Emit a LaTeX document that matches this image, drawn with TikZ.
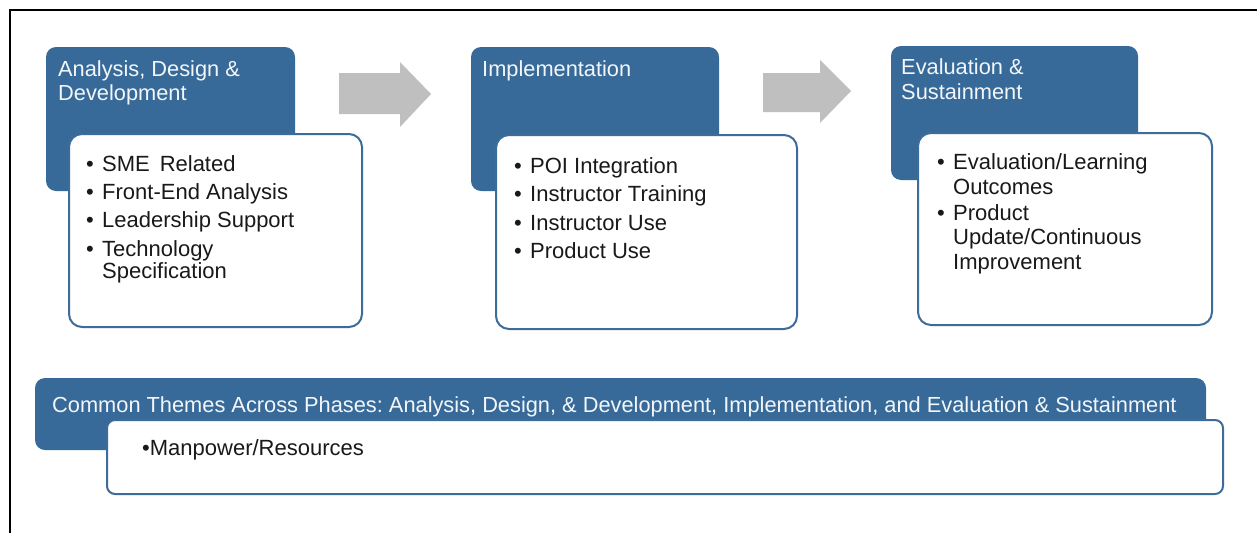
\documentclass[tikz,border=0pt]{standalone}
\usepackage{fontspec}
\setmainfont{Liberation Sans}
\frenchspacing
\definecolor{phaseblue}{RGB}{55,106,153}
\definecolor{edgeblue}{RGB}{62,108,154}
\definecolor{arrowgray}{RGB}{191,191,191}
\definecolor{bodytext}{RGB}{25,25,25}
\begin{document}
\begin{tikzpicture}[x=1pt,y=-1pt,
  phasehead/.style={fill=phaseblue, draw=none, rounded corners=10pt},
  phasebody/.style={fill=white, draw=edgeblue, line width=2pt, rounded corners=13pt},
  headtext/.style={anchor=base west, inner sep=0pt, text=white!94!phaseblue, font=\fontsize{21.8}{25}\selectfont},
  itemtext/.style={anchor=base west, inner sep=0pt, text=bodytext, font=\fontsize{22}{25}\selectfont},
  flowarrow/.style={fill=arrowgray, draw=none}
]
\useasboundingbox (0,0) rectangle (1257,533);
\fill[white] (0,0) rectangle (1257,533);
% outer frame (top and left edges)
\draw[line width=2pt, black] (1257,10) -- (10,10) -- (10,533);

% --- phase 1: Analysis, Design & Development
\fill[phasehead] (46,47) rectangle (295,191);
\draw[phasebody] (69,134) rectangle (362,327);
\node[headtext] (h1a) at (58,76) {Analysis, Design \&};
\node[headtext] (h1b) at (58,100) {Development};
\foreach \y/\t [count=\i] in {171/{SME\hspace{0.45em}Related},199/{Front-End Analysis},227/{Leadership Support},256/{Technology},278/{Specification}}{
  \node[itemtext] (p1t\i) at (102,\y) {\t};
}
\foreach \y [count=\i] in {171,199,227,256}{
  \node[itemtext] (p1b\i) at (86,\y) {\textbullet};
}

% arrow 1
\fill[flowarrow] (339,73) -- (400,73) -- (400,62) -- (431,94) -- (400,127) -- (400,114) -- (339,114) -- cycle;

% --- phase 2: Implementation
\fill[phasehead] (471,47) rectangle (719,191);
\draw[phasebody] (496,135) rectangle (797,329);
\node[headtext] (h2a) at (482,76) {Implementation};
\foreach \y/\t [count=\i] in {173/{POI Integration},201/{Instructor Training},230/{Instructor Use},258/{Product Use}}{
  \node[itemtext] (p2t\i) at (530,\y) {\t};
  \node[itemtext] (p2b\i) at (514,\y) {\textbullet};
}

% arrow 2
\fill[flowarrow] (763,73) -- (820,73) -- (820,60) -- (851,91) -- (820,123) -- (820,112) -- (763,112) -- cycle;

% --- phase 3: Evaluation & Sustainment
\fill[phasehead] (891,46) rectangle (1138,180);
\draw[phasebody] (918,133) rectangle (1212,325);
\node[headtext] (h3a) at (901,74) {Evaluation \&};
\node[headtext] (h3b) at (901,99) {Sustainment};
\foreach \y/\t [count=\i] in {169/{Evaluation/Learning},194/{Outcomes},220/{Product},244/{Update/Continuous},269/{Improvement}}{
  \node[itemtext] (p3t\i) at (953,\y) {\t};
}
\node[itemtext] (p3b1) at (937,169) {\textbullet};
\node[itemtext] (p3b2) at (937,220) {\textbullet};

% --- common themes
\fill[phasehead] (35,378) rectangle (1206,450);
\draw[phasebody, rounded corners=8pt] (107,420) rectangle (1223,494);
\node[headtext] (ct) at (52,412) {Common Themes Across Phases: Analysis, Design, \& Development, Implementation, and Evaluation \& Sustainment};
\node[itemtext] (mp) at (142,455) {\textbullet Manpower/Resources};
\end{tikzpicture}
\end{document}
